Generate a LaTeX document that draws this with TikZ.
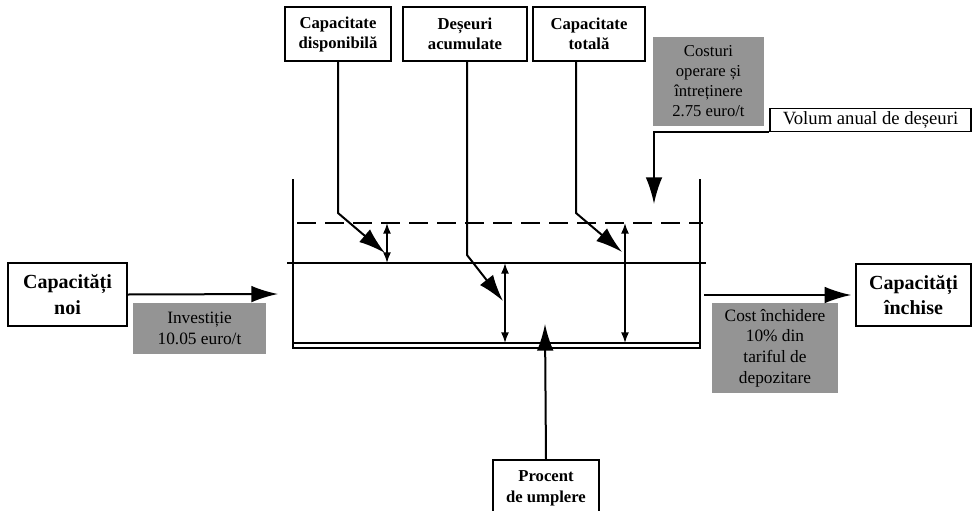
\documentclass[tikz,border=0pt]{standalone}
\usepackage{fontspec}
\setmainfont{Liberation Serif}
\usetikzlibrary{arrows.meta}
\begin{document}
\begin{tikzpicture}[x=0.75pt,y=-0.75pt,
  wbox/.style={draw,line width=1.3pt,fill=white,align=center,inner sep=0pt,font=\bfseries},
  gbox/.style={fill=black!42,align=center,inner sep=0pt,text=black},
  ln/.style={line width=1.5pt},
  arr/.style={line width=1.5pt,-{Latex[length=20pt,width=12.5pt]}},
  dbl/.style={line width=1.2pt,{Latex[length=8pt,width=6pt]}-{Latex[length=8pt,width=6pt]}}]
\useasboundingbox (0,0) rectangle (972,511);
% top boxes
\node[wbox,minimum width=79.5pt,minimum height=40.5pt,font=\bfseries\fontsize{12.5}{15}\selectfont] (cd) at (338,34) {Capacitate\\disponibilă};
\node[wbox,minimum width=93pt,minimum height=40.5pt,font=\bfseries\fontsize{12.5}{15}\selectfont] (da) at (465,34) {Deșeuri\\acumulate};
\node[wbox,minimum width=84pt,minimum height=40.5pt,font=\bfseries\fontsize{12.5}{15}\selectfont] (ct) at (589,34) {Capacitate\\totală};
% side boxes
\node[wbox,minimum width=89pt,minimum height=47pt,font=\bfseries\fontsize{15}{19}\selectfont] (cn) at (67.5,294.5) {Capacități\\noi};
\node[wbox,minimum width=86pt,minimum height=46.5pt,font=\bfseries\fontsize{15}{19}\selectfont] (ci) at (913.5,295) {Capacități\\închise};
\node[wbox,minimum width=150.75pt,minimum height=17.25pt,font=\fontsize{14}{16}\selectfont] (vol) at (870.5,120) {Volum anual de deșeuri};
\node[wbox,minimum width=79.5pt,minimum height=42pt,font=\bfseries\fontsize{12.5}{15.5}\selectfont] (pu) at (546,488) {Procent\\de umplere};
% gray boxes
\node[gbox,minimum width=83.25pt,minimum height=66.75pt,font=\fontsize{12.5}{15}\selectfont] (cos) at (708.5,81.5) {Costuri\\operare și\\întreținere\\2.75 euro/t};
\node[gbox,minimum width=99.75pt,minimum height=38.25pt,font=\fontsize{13}{15.5}\selectfont] (inv) at (199.5,328.5) {Investiție\\10.05 euro/t};
\node[gbox,minimum width=94.5pt,minimum height=67.5pt,font=\fontsize{13}{15.5}\selectfont] (ciu) at (775,348) {Cost închidere\\10\% din\\tariful de\\depozitare};
% tank
\draw[ln] (293,179) -- (293,348) -- (700,348) -- (700,179);
\draw[ln] (293,343) -- (700,343);
\draw[ln,dashed,dash pattern=on 14pt off 7pt] (297,223) -- (703,223);
\draw[ln] (287,263) -- (706,263);
% coordinates
\coordinate (tcd) at (385,253);
\coordinate (tda) at (503,301);
\coordinate (tct) at (622,252);
\coordinate (tvol) at (654,204);
\coordinate (tleft) at (278,294);
\coordinate (sright) at (704,295);
\coordinate (tpu) at (545,324);
% connectors
\draw[arr] (cd.south) -- (338,213) -- (tcd);
\draw[arr] ([xshift=1.5pt]da.south) -- (467,255) -- (tda);
\draw[arr] ([xshift=-9.75pt]ct.south) -- (576,213) -- (tct);
\draw[arr] (vol.south west) -| (tvol);
\draw[arr] (cn.east) -- (tleft);
\draw[arr] (sright) -- ([xshift=-3pt]ci.west);
\draw[arr] (pu.north) -- (tpu);
% level arrows
\draw[dbl] (387,223) -- (387,263);
\draw[dbl] (505,263) -- (505,343);
\draw[dbl] (625,223) -- (625,343);
\end{tikzpicture}
\end{document}
